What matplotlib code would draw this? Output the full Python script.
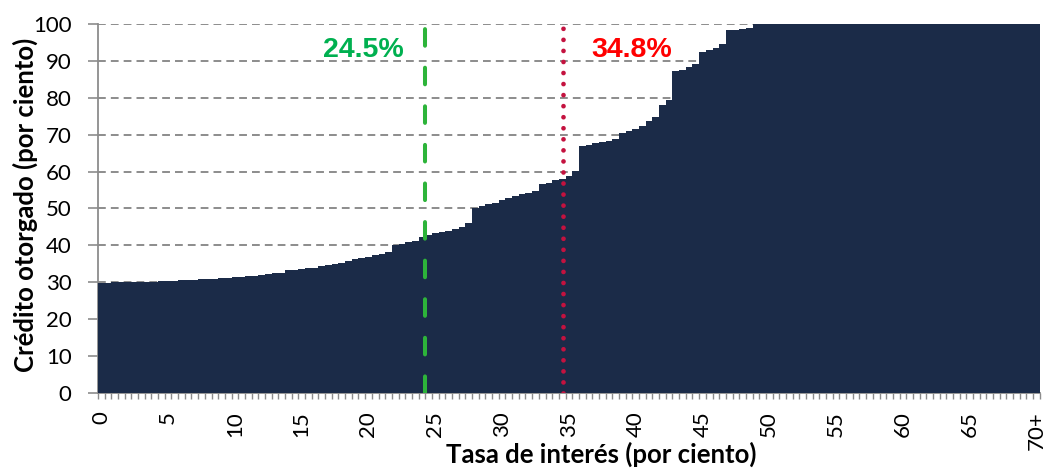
import matplotlib
matplotlib.use("Agg")
import matplotlib.pyplot as plt
import numpy as np

# Credit granted (cumulative %, one value per 0.5-point interest-rate bin, 0 ... 70+)
credit = [
    29.9, 29.9, 30.0, 30.0, 30.0, 30.1, 30.1, 30.2, 30.2, 30.3,   # 0 - 4.5
    30.4, 30.4, 30.5, 30.6, 30.7, 30.8, 30.9, 31.0, 31.1, 31.2,   # 5 - 9.5
    31.3, 31.5, 31.6, 31.8, 32.0, 32.2, 32.4, 32.6, 33.2, 33.4,   # 10 - 14.5
    33.6, 33.8, 34.0, 34.3, 34.6, 34.9, 35.3, 35.7, 36.2, 36.5,   # 15 - 19.5
    36.9, 37.4, 37.7, 38.2, 40.1, 40.4, 40.8, 41.3, 42.2, 42.8,   # 20 - 24.5
    43.3, 43.6, 44.0, 44.4, 45.0, 46.1, 50.2, 50.6, 51.1, 51.5,   # 25 - 29.5
    52.4, 52.8, 53.4, 53.8, 54.1, 54.7, 56.5, 56.9, 57.6, 58.1,   # 30 - 34.5
    58.8, 60.2, 66.9, 67.2, 67.7, 68.0, 68.3, 68.8, 70.5, 71.0,   # 35 - 39.5
    71.4, 72.3, 73.8, 74.8, 77.9, 79.4, 87.3, 87.6, 88.2, 89.1,   # 40 - 44.5
    92.5, 92.9, 93.6, 94.5, 98.4, 98.4, 98.6, 98.8, 100.0, 100.0, # 45 - 49.5
] + [100.0] * 41                                                  # 50 - 70+

bin_width = 0.5
rates = [i * bin_width for i in range(len(credit))]
tick_labels = ["0", "5", "10", "15", "20", "25", "30", "35", "40", "45",
               "50", "55", "60", "65", "70+"]
tick_rates = [0, 5, 10, 15, 20, 25, 30, 35, 40, 45, 50, 55, 60, 65, 70]
y_ticks = [0, 10, 20, 30, 40, 50, 60, 70, 80, 90, 100]

marker_green = 24.5
marker_red = 34.8

bar_color = "#1B2B48"
grid_color = "#8C8C8C"
tick_font = "Lato"
title_font = "Lato"
pct_font = "Liberation Sans"

fig = plt.figure(figsize=(10.5, 4.69), dpi=100)
ax = fig.add_axes([0.0933, 0.162, 0.897, 0.787])

ax.bar(rates, credit, width=bin_width, align="edge", color=bar_color,
       edgecolor="none", linewidth=0, zorder=3)

ax.set_xlim(0, len(credit) * bin_width)
ax.set_ylim(0, 100)

# gridlines
ax.set_yticks(y_ticks)
ax.set_yticklabels([str(v) for v in y_ticks], fontsize=16, family=tick_font)
ax.yaxis.grid(True, color=grid_color, linestyle=(0, (4.0, 2.6)), linewidth=1.4, zorder=1)
ax.set_axisbelow(True)

# x ticks: labels centred on bins, tick marks at bin boundaries
ax.set_xticks([r + bin_width / 2 for r in tick_rates])
ax.set_xticklabels(tick_labels, rotation=90, fontsize=16, family=tick_font)
ax.set_xticks(np.arange(0, len(credit) * bin_width + 0.01, bin_width), minor=True)
ax.tick_params(axis="x", which="major", length=0, pad=13)
ax.tick_params(axis="x", which="minor", length=4.5, width=1, color=grid_color)
ax.tick_params(axis="y", which="major", length=7, width=1.2, color=grid_color, pad=12)

for s in ["top", "right"]:
    ax.spines[s].set_visible(False)
for s in ["left", "bottom"]:
    ax.spines[s].set_color(grid_color)
    ax.spines[s].set_linewidth(1.3)

# vertical markers
ax.axvline(marker_green, color="#2DB43A", linewidth=2.9,
           linestyle=(0, (4.12, 5.46)), dash_capstyle="round", zorder=5)
ax.axvline(marker_red, color="#C4123F", linewidth=3.4,
           linestyle=(0, (0.01, 2.33)), dash_capstyle="round", zorder=5)

ax.text(marker_green - 1.6, 93.0, f"{marker_green}%", color="#00B050",
        fontsize=20.5, fontweight="bold", family=pct_font,
        ha="right", va="center", zorder=6)
ax.text(marker_red + 2.1, 93.0, f"{marker_red}%", color="#FF0000",
        fontsize=20.5, fontweight="bold", family=pct_font,
        ha="left", va="center", zorder=6)

ax.set_xlabel("Tasa de interés (por ciento)", fontsize=18.5, fontweight="bold",
              family=title_font)
ax.xaxis.set_label_coords((601 - 98) / 942, -(463 - 393) / 369, transform=ax.transAxes)
ax.xaxis.label.set_va("baseline")
ax.set_ylabel("Crédito otorgado (por ciento)", fontsize=18.5, fontweight="bold",
              family=title_font)
ax.yaxis.set_label_coords(-(98 - 25) / 942, (393 - 205) / 369, transform=ax.transAxes)
ax.yaxis.label.set_va("center")

fig.savefig("out.png", dpi=100)
